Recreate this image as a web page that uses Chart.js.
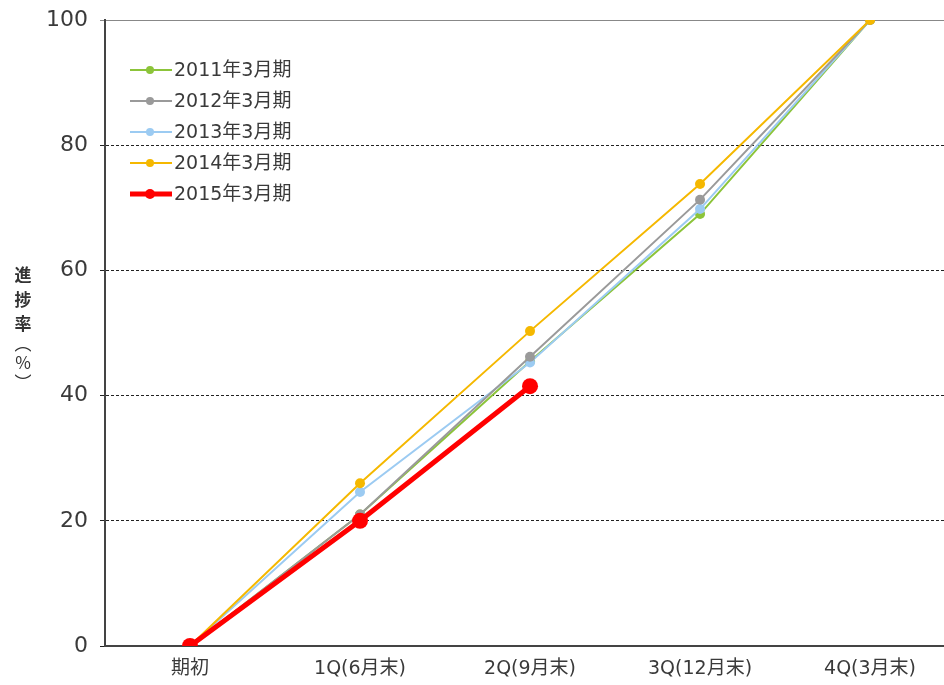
<!DOCTYPE html>
<html>
<head>
<meta charset="utf-8">
<script src="https://cdn.jsdelivr.net/npm/chart.js@4.4.0/dist/chart.umd.min.js"></script>
<style>
  html,body{margin:0;padding:0;background:#fff;overflow:hidden;}
  #wrap{width:944px;height:685px;position:relative;}
</style>
</head>
<body>
<div id="wrap"><canvas id="c" width="944" height="685"></canvas></div>
<script>
// categories / tick labels
const categories = ['期初', '1Q(6月末)', '2Q(9月末)', '3Q(12月末)', '4Q(3月末)'];
const yTicks = [0, 20, 40, 60, 80, 100];
const seriesNames = ['2011年3月期', '2012年3月期', '2013年3月期', '2014年3月期', '2015年3月期'];

// 進捗率 (%)
const fy2011 = [0, 21, 45.5, 69, 100];
const fy2012 = [0, 21, 46.2, 71.3, 100];
const fy2013 = [0, 24.6, 45.3, 69.8, 100];
const fy2014 = [0, 26, 50.3, 73.8, 100];
const fy2015 = [0, 20, 41.5];

const colors = ['#8cc43a', '#9a9a9a', '#9ccbf2', '#f5b800', '#ff0000'];
const allData = [fy2011, fy2012, fy2013, fy2014, fy2015];
const FONT = '"DejaVu Sans", "Noto Sans CJK JP", sans-serif';

function toPoints(arr){ return arr.map((v,i)=>({x:i, y:v})); }

const datasets = allData.map((d,i)=>({
  label: seriesNames[i],
  data: toPoints(d),
  borderColor: colors[i],
  backgroundColor: colors[i],
  borderWidth: i===4 ? 5 : 2,
  pointRadius: i===4 ? 8 : 5,
  pointBorderWidth: 0,
  tension: 0,
  order: [4,2,3,1,0][i]
}));

// 凡例 (line + dot), drawn inside plot area
const legendPlugin = {
  id: 'lineLegend',
  afterDraw(chart){
    const ctx = chart.ctx;
    ctx.save();
    ctx.font = '19px ' + FONT;
    ctx.textBaseline = 'middle';
    chart.data.datasets.forEach((ds,i)=>{
      const y = 70 + i*31;
      ctx.strokeStyle = ds.borderColor;
      ctx.lineWidth = ds.borderWidth;
      ctx.beginPath(); ctx.moveTo(130,y); ctx.lineTo(172,y); ctx.stroke();
      ctx.fillStyle = ds.borderColor;
      ctx.beginPath(); ctx.arc(150,y,ds.borderWidth>3?5:4,0,Math.PI*2); ctx.fill();
      ctx.fillStyle = '#3a3a3a';
      ctx.fillText(ds.label, 174, y+1);
    });
    ctx.restore();
  }
};

// 縦書きの軸タイトル (進捗率（%）)
const yTitlePlugin = {
  id: 'yTitle',
  afterDraw(chart){
    const ctx = chart.ctx;
    const chars = ['進','捗','率','︵','%','︶'];
    const ys = [275, 300, 324, 344, 363, 383];
    ctx.save();
    ctx.fillStyle = '#333';
    ctx.textAlign = 'center';
    ctx.textBaseline = 'middle';
    chars.forEach((ch,i)=>{
      ctx.font = (i<3 ? 'bold 17px ' : '17px ') + '"Noto Sans CJK JP", sans-serif';
      ctx.fillText(ch, 23, ys[i]);
    });
    ctx.restore();
  }
};

new Chart(document.getElementById('c').getContext('2d'), {
  type: 'line',
  data: { datasets },
  options: {
    responsive: false,
    animation: false,
    layout: { autoPadding: false, padding: { top: 20, right: 0, left: 0, bottom: 0 } },
    plugins: { legend: { display: false }, tooltip: { enabled: false } },
    scales: {
      x: {
        type: 'linear',
        min: -0.5,
        max: 4.435,
        afterBuildTicks: s => { s.ticks = categories.map((c,i)=>({value:i})); },
        afterFit: s => { s.height = 39; s.paddingLeft = 0; s.paddingRight = 0; },
        grid: { display: false, drawTicks: false },
        border: { color: '#444', width: 2 },
        ticks: {
          callback: v => categories[v],
          color: '#3a3a3a',
          font: { family: FONT, size: 19 },
          padding: 12,
          maxRotation: 0
        }
      },
      y: {
        min: 0,
        max: 100,
        afterBuildTicks: s => { s.ticks = yTicks.map(v=>({value:v})); },
        afterFit: s => { s.width = 105; s.paddingTop = 0; s.paddingBottom = 0; },
        grid: {
          color: ctx => (ctx.tick && ctx.tick.value===100) ? '#888' : '#222',
          lineWidth: 1,
          tickLength: 5
        },
        border: {
          color: '#444',
          width: 2,
          dash: ctx => (ctx.tick && (ctx.tick.value===0 || ctx.tick.value===100)) ? [] : [3,2]
        },
        ticks: {
          color: '#3a3a3a',
          font: { family: FONT, size: 22 },
          padding: 12
        }
      }
    }
  },
  plugins: [legendPlugin, yTitlePlugin]
});
</script>
</body>
</html>
